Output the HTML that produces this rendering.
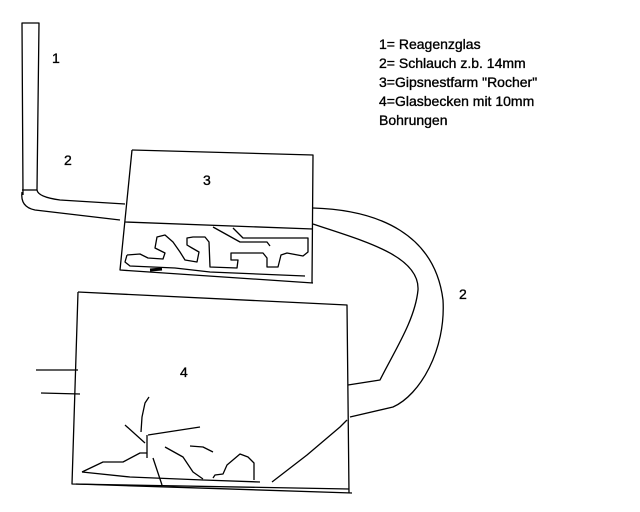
<!DOCTYPE html>
<html><head><meta charset="utf-8"><style>
html,body{margin:0;padding:0;background:#fff;}
svg{display:block;}
text{font-family:"Liberation Sans",Arial,sans-serif;font-size:14px;fill:#000;stroke:#000;stroke-width:0.35;}
</style></head><body>
<svg width="640" height="512" viewBox="0 0 640 512" xmlns="http://www.w3.org/2000/svg">
<rect width="640" height="512" fill="#fff"/>
<g fill="none" stroke="#000" stroke-width="1.3" stroke-linejoin="round">
<path d="M23,195 L22,23 L39,23 L37,190"/>
<path d="M22,190 L37,190"/>
<path d="M37,190 Q38,197 60,200 L125,204"/>
<path d="M22,192 Q20,207 35,210 L120,220"/>
<path d="M132,150 L313,155 L312,283"/>
<path d="M132,150 L120,270 L313,283"/>
<path d="M125,222 L313,229"/>
<path d="M127,255 L140,254 L148,258 L163,259 L165,253 L155,248 L157,237 L165,235 L173,242 L180,252 L185,260 L197,262 L199,252 L192,248 L187,245 L187,238 L193,237 L205,237 L209,242 L210,267 L237,268 L238,260 L231,260 L231,253 L263,253 L267,258 L267,267 L278,267 L281,255 L287,253 L303,256 L308,252 L308,238 L273,238 L243,238 L233,228"/>
<path d="M127,255 L125,262 L130,266 L175,268 L210,272 L305,276"/>
<path d="M213,227 L240,242 L267,242 L270,246"/>
<path d="M150,270 L162,269" stroke-width="3"/>
<path d="M313,208 C380,210 435,235 443,300 C446,350 420,395 393,407 L350,417"/>
<path d="M313,224 C360,240 420,255 418,290 C415,320 395,350 380,380 L348,385"/>
<path d="M78,292 L347,305 L349,493"/>
<path d="M78,292 L72,484 L349,489"/>
<path d="M76,484 L352,493"/>
<path d="M36,370 L78,370"/>
<path d="M41,393 L80,394"/>
<path d="M149,397 L145,403 L142,417 L141,432"/>
<path d="M147,435 L147,458"/>
<path d="M148,435 L200,427"/>
<path d="M125,425 L145,443"/>
<path d="M82,472 L103,462 L123,462 L140,453 L147,453"/>
<path d="M82,472 L130,477 L203,480 L260,482"/>
<path d="M153,458 L162,485"/>
<path d="M165,447 L183,457 L193,472 L203,479"/>
<path d="M190,446 L203,447 L213,452"/>
<path d="M213,478 L215,475 L223,474 L227,465 L240,454 L248,457 L254,463 L254,480"/>
<path d="M272,482 L307,455 L340,427 L347,420"/>
</g>
<text x="52" y="63">1</text>
<text x="64" y="165">2</text>
<text x="203" y="185">3</text>
<text x="180" y="377">4</text>
<text x="459" y="299">2</text>
<text x="379" y="49">1= Reagenzglas</text>
<text x="379" y="68">2= Schlauch z.b. 14mm</text>
<text x="379" y="87">3=Gipsnestfarm "Rocher"</text>
<text x="379" y="106">4=Glasbecken mit 10mm</text>
<text x="379" y="125">Bohrungen</text>
</svg>
</body></html>
